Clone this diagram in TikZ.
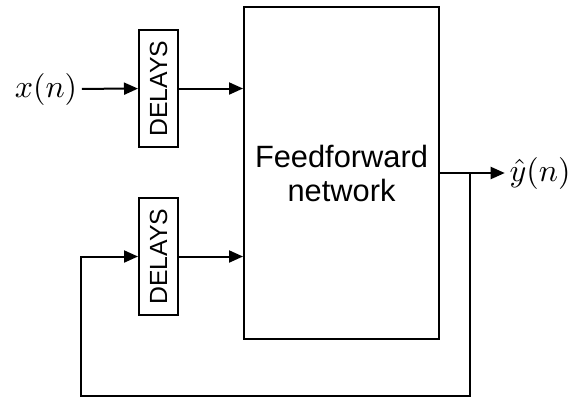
\documentclass[tikz,border=0pt]{standalone}
\usepackage{fontspec}
\setsansfont{Liberation Sans}
\usetikzlibrary{arrows.meta,positioning,calc}

\begin{document}
\begin{tikzpicture}
[x=0.5pt,y=-0.5pt, line width=1pt, >={Triangle[length=7pt,width=6pt]},
delaybox/.style={
draw, rotate=90, inner sep=0pt,
minimum width=58.5pt, minimum height=19.5pt,
font=\sffamily\fontsize{12.4}{14}\selectfont,
node contents={DELAYS}},
netbox/.style={
draw, align=center,
minimum width=97.5pt, minimum height=166pt,
font=\sffamily\fontsize{15.4}{17}\selectfont},
sig/.style={inner sep=1pt, scale=1.6}]
\useasboundingbox (0,0) rectangle (577,398);

\node (net) at (341.5,173) [netbox] {Feedforward\\network};
\node (d1) at (158.5,88.5) [delaybox];
\node (d2) at (158.5,256.5) [delaybox];
\node (xin) at (46,89) [sig] {$x(n)$};
\node (yout) at (540,173) [sig] {$\hat{y}(n)$};
\coordinate (tap) at (470,173);
\coordinate (fbr) at (470,396);
\coordinate (fbl) at (81,396);

\draw[->] (xin) -- (d1);
\draw[->] (d1) -- (d1 -| net.west);
\draw[->] (d2) -- (d2 -| net.west);
\draw[->] (net) -- (yout);
\draw[->] (tap) -- (fbr) -- (fbl) |- (d2);

\end{tikzpicture}
\end{document}
